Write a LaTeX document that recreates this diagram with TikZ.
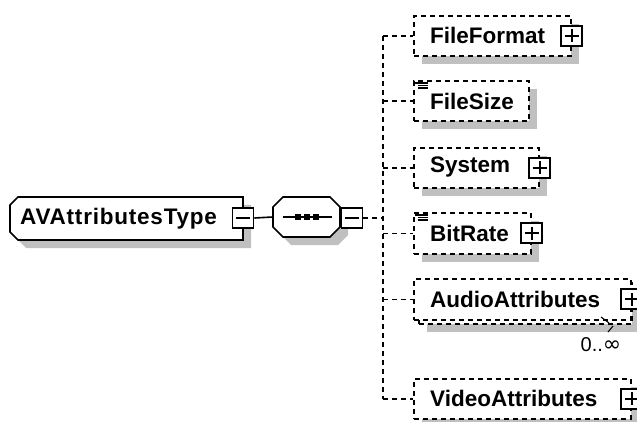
\documentclass[tikz,border=0pt]{standalone}
\usepackage{fontspec}
\setmainfont{Liberation Sans}
\newfontfamily\symfont{DejaVu Sans}
\usetikzlibrary{shadows}
\definecolor{shadowgray}{RGB}{192,192,192}
\tikzset{
  shd/.style={drop shadow={shadow xshift=8pt,shadow yshift=-8pt,fill=shadowgray,opacity=1}},
  dsh/.style={dash pattern=on 5pt off 4pt},
  elem/.style={draw,dsh,fill=white,line width=1.6pt,inner sep=0pt,anchor=north west},
  lbl/.style={anchor=west,inner sep=0pt,font=\fontsize{22.5}{26}\selectfont\bfseries},
  pm/.style={draw,solid,fill=white,line width=1.7pt,minimum width=21pt,minimum height=20pt,inner sep=0pt},
  minusbox/.style={pm,path picture={\draw[line width=1.8pt]
      ([xshift=3.5pt]path picture bounding box.west) -- ([xshift=-3.5pt]path picture bounding box.east);}},
  plusbox/.style={pm,path picture={\draw[line width=1.8pt]
      ([xshift=3.5pt]path picture bounding box.west) -- ([xshift=-3.5pt]path picture bounding box.east)
      ([yshift=-3.5pt]path picture bounding box.north) -- ([yshift=3.5pt]path picture bounding box.south);}},
  conn/.style={line width=1.6pt},
  outline/.style={draw,fill=white,line width=1.6pt},
}
\begin{document}
\begin{tikzpicture}[x=1pt,y=-1pt]
\clip (0,0) rectangle (637,422);
\fill[white] (0,0) rectangle (637,422);

% root (chamfered on the left)
\node[minimum width=233pt,minimum height=43pt,inner sep=0pt,anchor=north west] (root) at (10,197) {};
\fill[shadowgray] (26,205) -- (251,205) -- (251,248) -- (26,248) -- (18,240) -- (18,213) -- cycle;
\path[outline] (18,197) -- (243,197) -- (243,240) -- (18,240) -- (10,232) -- (10,205) -- cycle;
\node[lbl,font=\fontsize{22.5}{26}\selectfont\bfseries\addfontfeature{LetterSpace=3.5}] (roott) at (20,218.5) {AVAttributesType};
\node[minusbox] (rm) at (243,218) {};

% sequence (octagon)
\node[minimum width=67pt,minimum height=40pt,inner sep=0pt] (seq) at (306.5,217) {};
\fill[shadowgray] (291,205) -- (338,205) -- (348,215) -- (348,235) -- (338,245) -- (291,245) -- (281,235) -- (281,215) -- cycle;
\path[outline] (283,197) -- (330,197) -- (340,207) -- (340,227) -- (330,237) -- (283,237) -- (273,227) -- (273,207) -- cycle;
\draw[conn] ([xshift=-24pt]seq.center) -- ([xshift=25pt]seq.center);
\foreach \dx in {-9,0,9}
  \fill ([xshift=\dx pt]seq.center) ++(-3,-3) rectangle ++(6,6);
\node[minusbox] (sm) at (352,218) {};
\draw[conn] (rm.east) -- (seq.west);
\draw[conn] (seq.east) -- (sm.west);

% children
\node[elem,shd,minimum width=157pt,minimum height=40pt] (ff) at (413,15) {};
\node[lbl] (fft) at (430,35) {FileFormat};
\node[plusbox] (ffp) at (ff.east) {};

\node[elem,shd,minimum width=115pt,minimum height=40pt] (fs) at (413,80) {};
\node[lbl] (fst) at (430,101) {FileSize};

\node[elem,shd,minimum width=125pt,minimum height=40pt] (sys) at (413,147) {};
\node[lbl] (syst) at (430,167) {System};
\node[plusbox] (sysp) at (sys.east) {};

\node[elem,shd,minimum width=117pt,minimum height=41pt] (br) at (413,212) {};
\node[lbl] (brt) at (430,233) {BitRate};
\node[plusbox] (brp) at (br.east) {};

\node[elem,shd,minimum width=213pt,minimum height=41pt] (audb) at (418,282) {};
\node[elem,minimum width=217pt,minimum height=41pt] (aud) at (413,278) {};
\node[lbl] (audt) at (430,299) {AudioAttributes};
\node[plusbox] (audp) at (aud.east) {};
\node[inner sep=0pt,font=\fontsize{20}{24}\selectfont] (card) at (601,345) {0..{\symfont\fontsize{22}{24}\selectfont ∞}};
\draw[line width=1.1pt] (601,317) -- (609,323) (613,326) -- (608,332);

\node[elem,shd,minimum width=217pt,minimum height=40pt] (vid) at (413,378) {};
\node[lbl] (vidt) at (430,398) {VideoAttributes};
\node[plusbox] (vidp) at (vid.east) {};

% icons
\foreach \n in {fs,br}{
  \draw[line width=1.1pt] ([shift={(2pt,-3pt)}]\n.north west) -- ++(13,0)
    ([shift={(5pt,-5.5pt)}]\n.north west) -- ++(10,0)
    ([shift={(5pt,-8pt)}]\n.north west) -- ++(10,0);
}

% connectors
\coordinate (j) at (383,218);
\draw[conn,dsh] (sm.east) -- (j);
\draw[conn,dsh] (ff.west -| j) -- (vid.west -| j);
\foreach \n in {ff,fs,sys,br,aud,vid}
  \draw[conn,dsh] (\n.west -| j) -- (\n.west);
\end{tikzpicture}
\end{document}
